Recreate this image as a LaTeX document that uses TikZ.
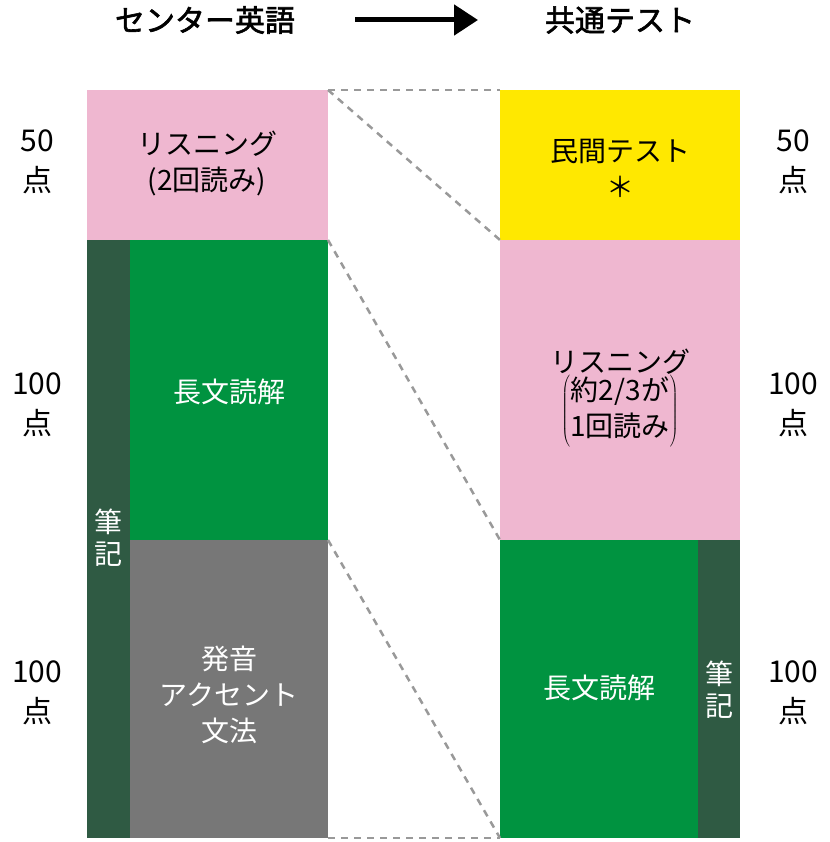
\documentclass[tikz,border=0pt]{standalone}
\usepackage{fontspec}
\usetikzlibrary{arrows.meta}
\setmainfont{Noto Sans CJK JP}
\newfontfamily\jpb{Noto Sans CJK JP}[FakeBold=2]
\definecolor{pk}{HTML}{EFB7D0}
\definecolor{gr}{HTML}{009340}
\definecolor{dg}{HTML}{2F5A43}
\definecolor{gy}{HTML}{777777}
\definecolor{yl}{HTML}{FFE800}
\definecolor{dashgray}{HTML}{999999}
\tikzset{blk/.style={inner sep=0pt,outer sep=0pt},
 lbl/.style={font=\fontsize{28}{36}\selectfont,align=center,text=white},
 lblk/.style={font=\fontsize{28}{36}\selectfont,align=center,text=black},
 sc/.style={font=\fontsize{30}{40}\selectfont,align=center},
 dl/.style={draw=dashgray,line width=2.5pt,dash pattern=on 7pt off 6pt}}
\begin{document}
\begin{tikzpicture}[x=1pt,y=-1pt]
\useasboundingbox (0,0) rectangle (829,842);
\fill[pk] (87,90) rectangle (328,240);
\fill[dg] (87,240) rectangle (130,838);
\fill[gr] (130,240) rectangle (328,540);
\fill[gy] (130,540) rectangle (328,838);
\fill[yl] (500,90) rectangle (740,240);
\fill[pk] (500,240) rectangle (740,540);
\fill[gr] (500,540) rectangle (698,838);
\fill[dg] (698,540) rectangle (740,838);
\coordinate (l1) at (328,90); \coordinate (l2) at (328,240);
\coordinate (l3) at (328,540); \coordinate (l4) at (328,838);
\coordinate (r1) at (500,90); \coordinate (r2) at (500,240);
\coordinate (r3) at (500,540); \coordinate (r4) at (500,838);
\draw[dl] (l1)--(r1); \draw[dl] (l1)--(r2); \draw[dl] (l2)--(r3);
\draw[dl] (l3)--(r4); \draw[dl] (l4)--(r4);
\node[font=\fontsize{30}{36}\jpb] (t1) at (205,20) {センター英語};
\node[font=\fontsize{30}{36}\jpb] (t2) at (620,20) {共通テスト};
\coordinate (a1) at (355,20); \coordinate (a2) at (478,20);
\draw[line width=5pt,-{Triangle[length=24pt,width=30pt]}] (a1)--(a2);
\node[lblk] (n1) at (207,163) {リスニング\\(2回読み)};
\node[lbl] (n2) at (229,392) {長文読解};
\node[lbl] (n3) at (229,695) {発音\\アクセント\\文法};
\node[lbl,font=\fontsize{28}{32}\selectfont] (n4) at (108,538) {筆\\記};
\node[lblk] (n5) at (620,168) {民間テスト\\＊};
\node[lblk] (n6) at (620,398) {リスニング\\$\left(\mbox{\begin{tabular}{@{}c@{}}約2/3が\\1回読み\end{tabular}}\right)$};
\node[lbl] (n7) at (599,688) {長文読解};
\node[lbl,font=\fontsize{28}{32}\selectfont] (n8) at (719,690) {筆\\記};
\node[sc] (s1) at (37,162) {50\\点};
\node[sc] (s2) at (37,405) {100\\点};
\node[sc] (s3) at (37,693) {100\\点};
\node[sc] (s4) at (793,162) {50\\点};
\node[sc] (s5) at (793,405) {100\\点};
\node[sc] (s6) at (793,693) {100\\点};
\end{tikzpicture}
\end{document}
